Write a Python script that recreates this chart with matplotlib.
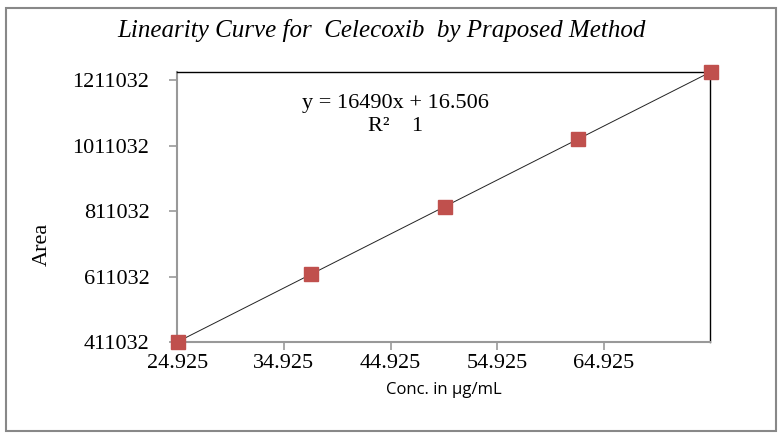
import numpy as np
import matplotlib.pyplot as plt
from matplotlib.patches import Rectangle

# concentration (ug/mL) and peak area
conc = [25, 37.5, 50, 62.5, 75]
area = [412270, 618390, 824520, 1030640, 1236770]

x_ticks = [24.925, 34.925, 44.925, 54.925, 64.925]
y_ticks = [411032, 611032, 811032, 1011032, 1211032]

serif = ['Liberation Serif', 'DejaVu Serif']

fig = plt.figure(figsize=(7.84, 4.34), dpi=100)
fig.patches.append(Rectangle((0.008, 0.007), 0.982, 0.975, transform=fig.transFigure,
                             fill=False, edgecolor='#888888', linewidth=1.5))

ax = fig.add_axes([0.226, 0.212, 0.680, 0.622])

# linear trendline
m, c = np.polyfit(conc, area, 1)
xs = np.array([conc[0], conc[-1]])
ax.plot(xs, m*xs + c, color='#222222', linewidth=0.7, zorder=2)
ax.plot(conc, area, 's', color='#C0504D', markersize=10, zorder=3, clip_on=False)

ax.set_xlim(24.925, 74.9)
ax.set_ylim(411032, 1235500)
ax.set_xticks(x_ticks)
ax.set_xticklabels(['%.3f' % v for v in x_ticks], family=serif, fontsize=16)
ax.set_yticks(y_ticks)
ax.set_yticklabels([str(v) for v in y_ticks], family=serif, fontsize=16)
ax.tick_params(direction='out', length=6, color='#999999', width=1.2, pad=3)
ax.tick_params(axis='y', pad=14)

for side in ['left', 'bottom']:
    ax.spines[side].set_color('#999999')
    ax.spines[side].set_linewidth(1.5)
for side in ['top', 'right']:
    ax.spines[side].set_color('black')
    ax.spines[side].set_linewidth(1.0)

ax.set_xlabel('Conc. in µg/mL', family=['Open Sans', 'DejaVu Sans'], fontsize=12, labelpad=6)
ax.set_ylabel('Area', family=serif, fontsize=16)
ax.yaxis.set_label_coords(-0.235, 0.36)

fig.text(0.487, 0.93, 'Linearity Curve for  Celecoxib  by Praposed Method',
         family=serif, style='italic', fontsize=18, ha='center', va='center')

ax.text(0.41, 0.885, 'y = 16490x + 16.506', transform=ax.transAxes,
        family=serif, fontsize=16, ha='center', va='center')
ax.text(0.41, 0.80, 'R²    1', transform=ax.transAxes,
        family=serif, fontsize=16, ha='center', va='center')

fig.savefig('out.png', dpi=100)
